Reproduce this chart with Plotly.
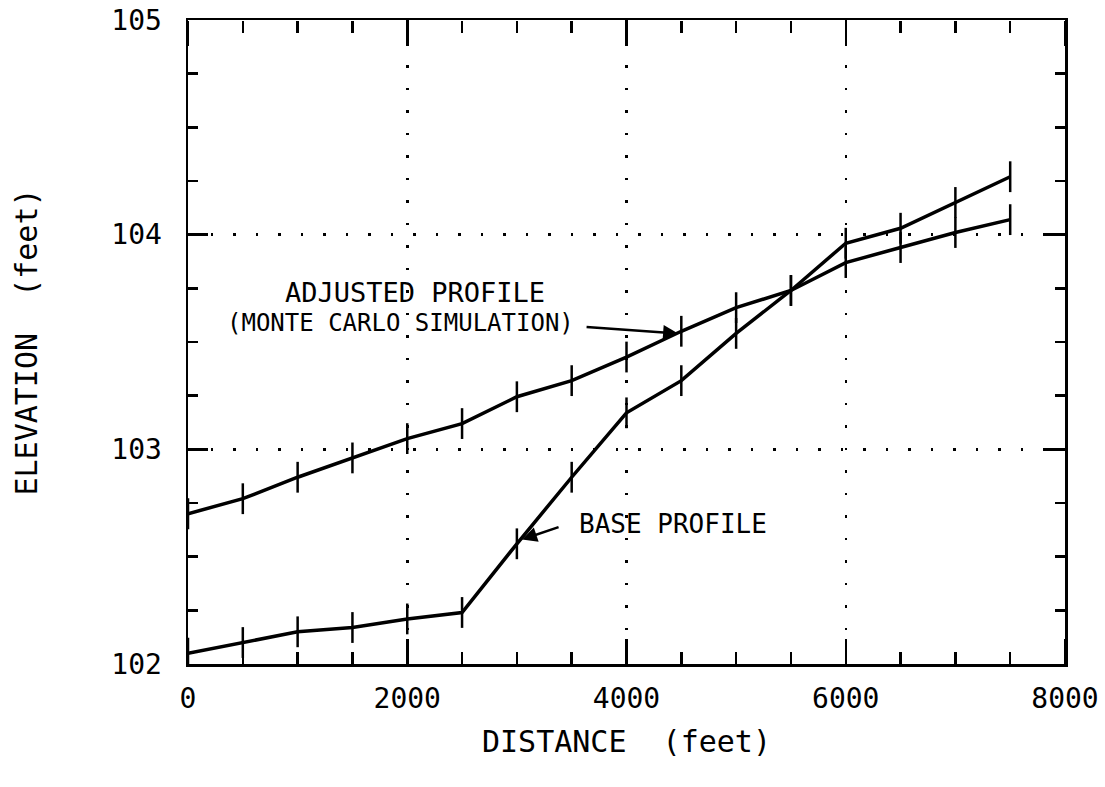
import plotly.graph_objects as go

distance = [0, 500, 1000, 1500, 2000, 2500, 3000, 3500, 4000, 4500, 5000, 5500, 6000, 6500, 7000, 7500]
adjusted = [102.70, 102.77, 102.87, 102.96, 103.05, 103.12, 103.245, 103.32, 103.43, 103.55, 103.66, 103.74, 103.87, 103.94, 104.01, 104.07]
base = [102.05, 102.10, 102.15, 102.17, 102.21, 102.24, 102.56, 102.87, 103.17, 103.32, 103.54, 103.74, 103.96, 104.03, 104.15, 104.27]

x_tick_step = 2000
x_minor_step = 500
y_tick_step = 1
y_minor_step = 0.25

FONT = "DejaVu Sans Mono"

fig = go.Figure()
for name, ys in [("ADJUSTED PROFILE", adjusted), ("BASE PROFILE", base)]:
    fig.add_trace(go.Scatter(
        x=distance, y=ys, mode="lines+markers", name=name,
        line=dict(color="black", width=3.5),
        marker=dict(symbol="line-ns", size=22, color="black",
                    line=dict(width=2.5, color="black")),
        showlegend=False,
    ))
# carrier traces for the tick-only overlay x axes
for xa in ("x2", "x3"):
    fig.add_trace(go.Scatter(x=[None], y=[None], xaxis=xa, yaxis="y", mode="lines",
                             showlegend=False, hoverinfo="skip"))

grid_common = dict(showgrid=True, gridcolor="black", gridwidth=2.5, griddash="2.5px,20px")

tick_axis = dict(
    overlaying="x", matches="x", anchor="free", range=[0, 8000],
    tickmode="linear", tick0=0, dtick=x_tick_step,
    ticks="outside", ticklen=25, tickwidth=2.5, tickcolor="black",
    minor=dict(tickmode="linear", tick0=0, dtick=x_minor_step, ticklen=12, tickwidth=2.5,
               tickcolor="black", ticks="outside", showgrid=False),
    showline=False, showticklabels=False, showgrid=False, zeroline=False,
)

fig.update_layout(
    xaxis=dict(
        range=[0, 8000], tickmode="linear", tick0=0, dtick=x_tick_step,
        showline=True, linecolor="black", linewidth=2.5, mirror=True,
        ticks="", zeroline=False,
        tickfont=dict(family=FONT, size=28, color="black"),
        ticklabelstandoff=8, ticklabeloverflow="allow",
        title=dict(text="DISTANCE  (feet)", font=dict(family=FONT, size=30, color="black"), standoff=17),
        **grid_common,
    ),
    # ticks pointing up from the bottom edge
    xaxis2=dict(side="top", position=0, **tick_axis),
    # ticks pointing down from the top edge
    xaxis3=dict(side="bottom", position=1, **tick_axis),
    yaxis=dict(
        range=[102, 105], tickmode="linear", tick0=102, dtick=y_tick_step,
        showline=True, linecolor="black", linewidth=2.5, mirror="ticks",
        ticks="inside", ticklen=20, tickwidth=2.5, tickcolor="black",
        minor=dict(tickmode="linear", tick0=102, dtick=y_minor_step, ticklen=10, tickwidth=2.5,
                   tickcolor="black", ticks="inside", showgrid=False),
        zeroline=False,
        tickfont=dict(family=FONT, size=28, color="black"),
        ticklabelstandoff=18, ticklabeloverflow="allow",
        title=dict(text="ELEVATION  (feet)", font=dict(family=FONT, size=30, color="black"), standoff=65),
        **grid_common,
    ),
)

ann_font = dict(family=FONT, color="black")
fig.add_annotation(x=2071, y=103.73, text="ADJUSTED PROFILE", showarrow=False,
                   font=dict(size=27, **ann_font))
fig.add_annotation(x=1934, y=103.59, text="(MONTE CARLO SIMULATION)", showarrow=False,
                   font=dict(size=24, **ann_font))
fig.add_annotation(x=4425, y=102.65, text="BASE PROFILE", showarrow=False,
                   font=dict(size=26, **ann_font))
# arrows
fig.add_annotation(x=4471, y=103.54, ax=3622, ay=103.57, axref="x", ayref="y",
                   text="", showarrow=True, arrowhead=2, arrowsize=1.2, arrowwidth=2.5,
                   arrowcolor="black")
fig.add_annotation(x=3047, y=102.58, ax=3394, ay=102.64, axref="x", ayref="y",
                   text="", showarrow=True, arrowhead=2, arrowsize=1.2, arrowwidth=2.5,
                   arrowcolor="black")

fig.update_layout(
    width=1105, height=787,
    margin=dict(l=188, r=40, t=20, b=123, autoexpand=False),
    paper_bgcolor="white", plot_bgcolor="white",
    font=dict(family=FONT, color="black"),
)

fig.write_html("out.html",
               config={"displayModeBar": False, "staticPlot": True},
               post_script="document.body.style.margin='0';document.body.style.overflow='hidden';")
